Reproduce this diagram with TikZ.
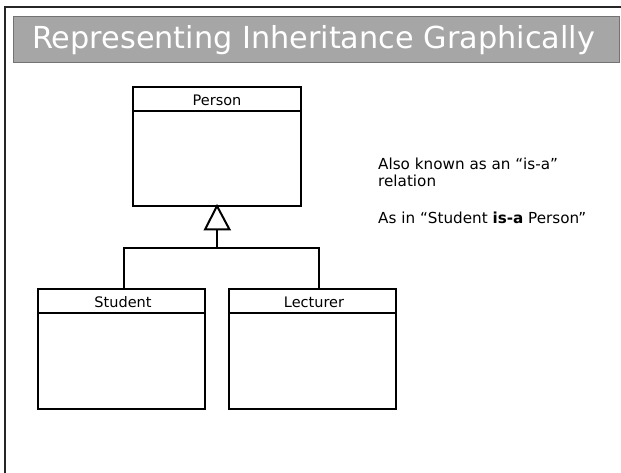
\documentclass[tikz,border=0pt]{standalone}
\usepackage{fontspec}
\setmainfont{DejaVu Sans}
\tikzset{
  x=1pt, y=-1pt,
  umlbox/.style={draw=black, line width=2pt, fill=white},
  conn/.style={draw=black, line width=2pt},
  lbl/.style={font=\fontsize{14.5}{17}\selectfont, inner sep=0pt, anchor=base},
  note/.style={font=\fontsize{15.2}{18}\selectfont, inner sep=0pt, anchor=base west, align=left},
}
\begin{document}
\begin{tikzpicture}
\useasboundingbox (0,0) rectangle (621,473);
% slide frame and title bar
\draw[line width=1.2pt, black!85] (5,480) -- (5,7) -- (630,7);
\fill[gray!70, draw=gray!90!black, line width=1pt] (13,17) rectangle (619.5,62.5);
\node[anchor=base west, inner sep=0pt, text=white, font=\fontsize{30.3}{35}\selectfont] (title) at (32,48.5) {Representing Inheritance Graphically};

% Person class
\draw[umlbox] (133,87) rectangle (301,206);
\draw[conn] (133,111.5) -- (301,111.5);
\node[lbl] (person) at (217,105.5) {Person};
\coordinate (ptop) at (217,206);

% Student class
\draw[umlbox] (38,289) rectangle (205,409);
\draw[conn] (38,313) -- (205,313);
\node[lbl] (student) at (123,307.3) {Student};
\coordinate (stop) at (124,289);

% Lecturer class
\draw[umlbox] (229,289) rectangle (396,409);
\draw[conn] (229,313) -- (396,313);
\node[lbl] (lecturer) at (314,307.3) {Lecturer};
\coordinate (ltop) at (319,289);

% generalisation triangle and branches
\coordinate (tribase) at (217,229.5);
\coordinate (junction) at (217,248);
\draw[conn, line join=miter] (ptop) -- (205,229.5) -- (229.5,229.5) -- cycle;
\draw[conn] (tribase) -- (junction);
\draw[conn] (stop) |- (junction) -| (ltop);

% notes
\node[note] (n1) at (378,169.5) {Also known as an “is-a”};
\node[note] (n2) at (378,186.5) {relation};
\node[note] (n3) at (378,223.5) {As in “Student \textbf{is-a} Person”};
\end{tikzpicture}
\end{document}
